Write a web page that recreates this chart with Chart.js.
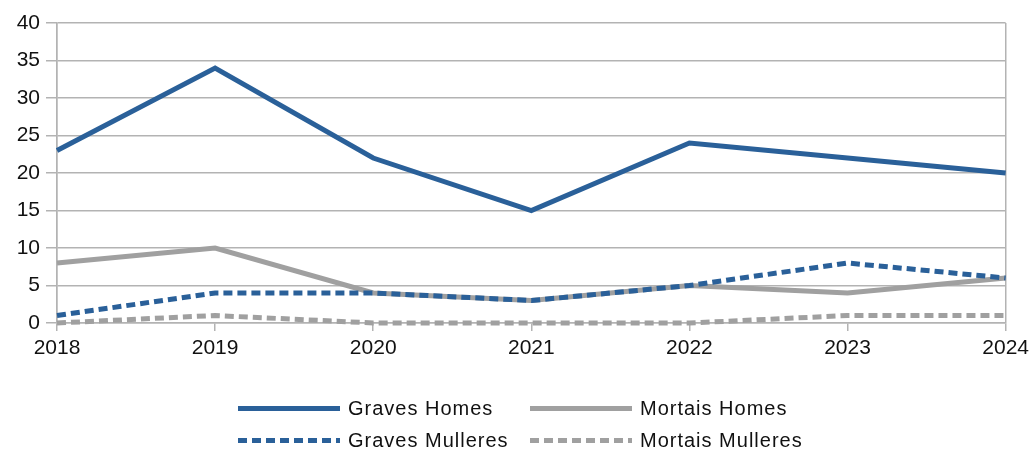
<!DOCTYPE html>
<html lang="gl">
<head>
  <meta charset="UTF-8">
  <title>Graves e mortais 2018-2024</title>
  <script src="https://cdn.jsdelivr.net/npm/chart.js"></script>
  <style>
    body { margin: 0; background: #fff; font-family: "Liberation Sans", Arial, sans-serif; }
    #wrap { position: relative; width: 1034px; height: 454px; }
    #chart { position: absolute; left: 0; top: 0; }
    #legend { position: absolute; left: 238px; top: 396px; display: grid; grid-template-columns: 292px auto; row-gap: 8px; }
    .item { display: flex; align-items: center; height: 24px; font-size: 20px; letter-spacing: 1px; color: #111; }
    .sample { width: 102px; height: 5px; margin-right: 8px; }
  </style>
</head>
<body>
  <div id="wrap">
    <canvas id="chart" width="1034" height="454"></canvas>
    <div id="legend"></div>
  </div>

  <script>
    const years = ["2018", "2019", "2020", "2021", "2022", "2023", "2024"];
    const gravesHomes = [23, 34, 22, 15, 24, 22, 20];
    const mortaisHomes = [8, 10, 4, 3, 5, 4, 6];
    const gravesMulleres = [1, 4, 4, 3, 5, 8, 6];
    const mortaisMulleres = [0, 1, 0, 0, 0, 1, 1];

    const blue = "#2a6099";
    const grey = "#a0a0a0";
    const gridColor = "#b3b3b3";
    const font = { family: "'Liberation Sans', Arial, sans-serif", size: 21 };

    function line(label, data, color, dashed, order) {
      return {
        label: label,
        data: data,
        borderColor: color,
        backgroundColor: color,
        borderWidth: 5,
        borderDash: dashed ? [9, 5] : [],
        pointRadius: 0,
        tension: 0,
        clip: false,
        order: order
      };
    }

    const datasets = [
      line("Graves Homes", gravesHomes, blue, false, 4),
      line("Mortais Homes", mortaisHomes, grey, false, 3),
      line("Graves Mulleres", gravesMulleres, blue, true, 2),
      line("Mortais Mulleres", mortaisMulleres, grey, true, 1)
    ];

    const chart = new Chart(document.getElementById("chart"), {
      type: "line",
      data: { labels: years, datasets: datasets },
      options: {
        responsive: false,
        animation: false,
        layout: { padding: { top: 23, right: 28, left: 0, bottom: 0 } },
        plugins: { legend: { display: false }, tooltip: { enabled: false } },
        scales: {
          x: {
            offset: false,
            grid: {
              color: ctx => (ctx.index === 0 || ctx.index === years.length - 1) ? gridColor : "rgba(0,0,0,0)",
              tickColor: gridColor,
              tickLength: 8,
              lineWidth: 1.5
            },
            border: { color: gridColor, width: 1.5 },
            ticks: { font: font, color: "#111", padding: 5, maxRotation: 0 },
            afterFit: s => { s.height = 454 - 323; }
          },
          y: {
            min: 0,
            max: 40,
            ticks: { stepSize: 5, font: font, color: "#111", padding: 6 },
            grid: { color: gridColor, tickColor: gridColor, tickLength: 11, lineWidth: 1.5 },
            border: { color: gridColor, width: 1.5 },
            afterFit: s => { s.width = 57; }
          }
        }
      }
    });

    // legend laid out as a 2x2 grid like the original
    const legend = document.getElementById("legend");
    chart.data.datasets.forEach(ds => {
      const item = document.createElement("div");
      item.className = "item";
      const sample = document.createElement("span");
      sample.className = "sample";
      if (ds.borderDash.length) {
        sample.style.background = `repeating-linear-gradient(to right, ${ds.borderColor} 0 9px, transparent 9px 14px)`;
      } else {
        sample.style.background = ds.borderColor;
      }
      item.appendChild(sample);
      item.appendChild(document.createTextNode(ds.label));
      legend.appendChild(item);
    });
  </script>
</body>
</html>
